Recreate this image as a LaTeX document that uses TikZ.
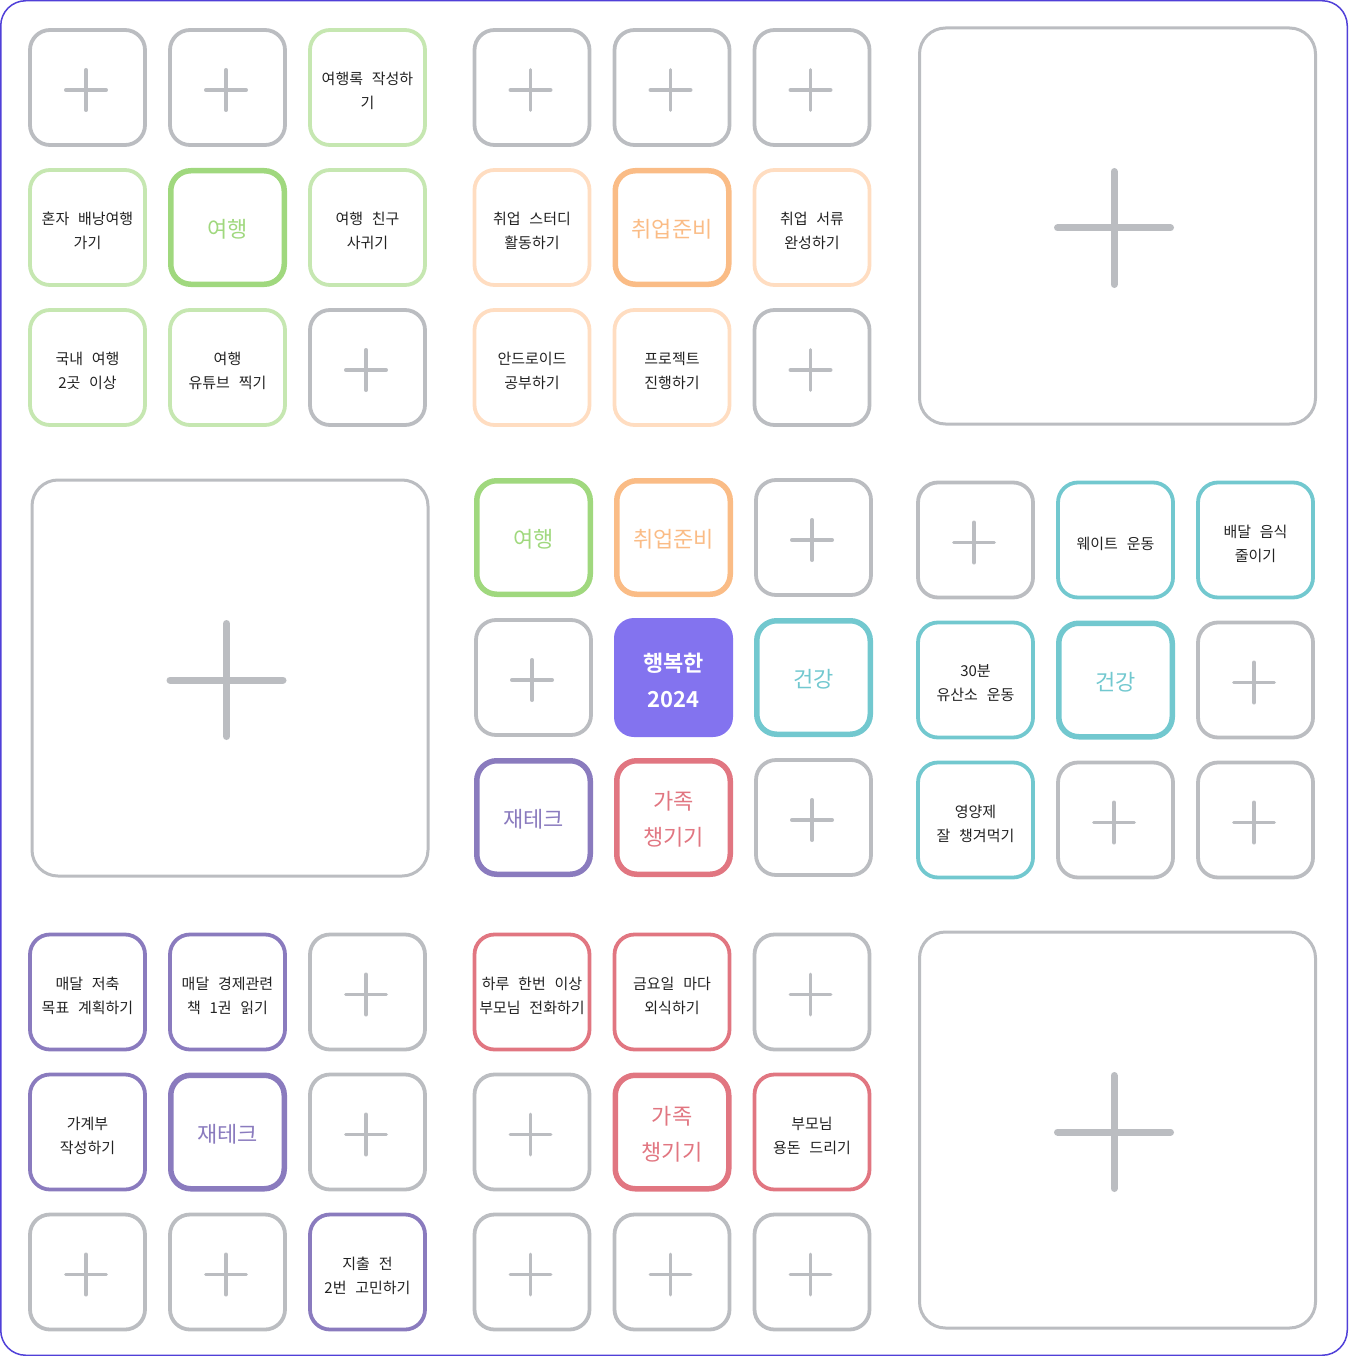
\documentclass[tikz,border=0pt]{standalone}
\usepackage{fontspec}
\newfontfamily\kr[WordSpace=2.6]{Noto Sans CJK KR}
\newfontfamily\krb{Noto Sans CJK KR Bold}
\usetikzlibrary{calc}
\definecolor{cgray}{HTML}{BBBDC1}
\definecolor{clgreen}{HTML}{C6E7B1}
\definecolor{cgreen}{HTML}{A0D87E}
\definecolor{clorange}{HTML}{FFDDC1}
\definecolor{corange}{HTML}{FABC86}
\definecolor{cteal}{HTML}{72C8CF}
\definecolor{cpurple}{HTML}{8A7BBE}
\definecolor{cred}{HTML}{E17681}
\definecolor{ccore}{HTML}{8373EF}
\definecolor{cframe}{HTML}{5040D8}
\definecolor{ctxt}{HTML}{222222}
\tikzset{
  cellbase/.style={rectangle, rounded corners=20pt, inner sep=0pt},
  sub/.style={cellbase, draw=#1, line width=3.8pt, minimum size=115pt},
  subtxt/.style={inner sep=0pt, align=center, yshift=-3.5pt,
    font=\kr\fontsize{15}{24}\selectfont, text=ctxt},
  hub/.style={cellbase, draw=#1, line width=5.5pt, minimum size=113.5pt},
  hubtxt/.style={inner sep=0pt, align=center, yshift=-2pt,
    font=\kr\fontsize{22}{36}\selectfont, text=#1},
  emptycell/.style={sub=cgray},
  bigcell/.style={rectangle, rounded corners=26pt, draw=cgray, line width=3pt, minimum size=396pt, inner sep=0pt},
  corecell/.style={cellbase, fill=ccore, draw=none, minimum size=119pt},
  coretxt/.style={inner sep=0pt, align=center, yshift=-2.5pt,
    font=\krb\fontsize{22}{36}\selectfont, text=white},
  plusline/.style={draw=cgray, line width=3.5pt, line cap=round},
  bigplusline/.style={draw=cgray, line width=7pt, line cap=round},
}
% name, position, box style, text style, text
\newcommand\mycell[5]{\node[#3] (#1) at (#2) {};
  \node[#4] (#1t) at (#1.center) {#5};}
\newcommand\mysub[4]{\mycell{#1}{#2}{sub=#3}{subtxt}{#4}}
\newcommand\myhub[4]{\mycell{#1}{#2}{hub=#3}{hubtxt=#3}{#4}}
\newcommand\myplus[2]{%
  \node[emptycell] (#1) at (#2) {};
  \draw[plusline] ($(#1)+(-21.75,2.5)$) -- ($(#1)+(18.75,2.5)$);
  \draw[plusline] ($(#1)+(-1.5,-17.75)$) -- ($(#1)+(-1.5,22.75)$);}
\newcommand\mybig[2]{%
  \node[bigcell] (#1) at (#2) {};
  \draw[bigplusline] ($(#1)+(-60,2)$) -- ($(#1)+(53,2)$);
  \draw[bigplusline] ($(#1)+(-3.5,-54.5)$) -- ($(#1)+(-3.5,58.5)$);}
\begin{document}
\begin{tikzpicture}[x=1pt,y=-1pt]
\useasboundingbox (0,0) rectangle (1348,1356);
\draw[cframe, line width=1.5pt, rounded corners=25pt] (0.75,0.75) rectangle (1347.25,1355.25);
% ---- top-left block (travel)
\myplus{a11}{87.5,87.5}
\myplus{a12}{227.5,87.5}
\mysub{a13}{367.5,87.5}{clgreen}{여행록 작성하\\기}
\mysub{a21}{87.5,227.5}{clgreen}{혼자 배낭여행\\가기}
\myhub{a22}{227.5,227.5}{cgreen}{여행}
\mysub{a23}{367.5,227.5}{clgreen}{여행 친구\\사귀기}
\mysub{a31}{87.5,367.5}{clgreen}{국내 여행\\2곳 이상}
\mysub{a32}{227.5,367.5}{clgreen}{여행\\유튜브 찍기}
\myplus{a33}{367.5,367.5}
% ---- top-middle block (job)
\myplus{b11}{532,87.5}
\myplus{b12}{672,87.5}
\myplus{b13}{812,87.5}
\mysub{b21}{532,227.5}{clorange}{취업 스터디\\활동하기}
\myhub{b22}{672,227.5}{corange}{취업준비}
\mysub{b23}{812,227.5}{clorange}{취업 서류\\완성하기}
\mysub{b31}{532,367.5}{clorange}{안드로이드\\공부하기}
\mysub{b32}{672,367.5}{clorange}{프로젝트\\진행하기}
\myplus{b33}{812,367.5}
% ---- top-right big
\mybig{c}{1117.5,226}
% ---- middle-left big
\mybig{d}{230,678}
% ---- middle-center block
\myhub{e11}{533.5,537.5}{cgreen}{여행}
\myhub{e12}{673.5,537.5}{corange}{취업준비}
\myplus{e13}{813.5,537.5}
\myplus{e21}{533.5,677.5}
\mycell{e22}{673.5,677.5}{corecell}{coretxt}{행복한\\2024}
\myhub{e23}{813.5,677.5}{cteal}{건강}
\myhub{e31}{533.5,817.5}{cpurple}{재테크}
\myhub{e32}{673.5,817.5}{cred}{가족\\챙기기}
\myplus{e33}{813.5,817.5}
% ---- middle-right block (health)
\myplus{f11}{975.5,540}
\mysub{f12}{1115.5,540}{cteal}{웨이트 운동}
\mysub{f13}{1255.5,540}{cteal}{배달 음식\\줄이기}
\mysub{f21}{975.5,680}{cteal}{30분\\유산소 운동}
\myhub{f22}{1115.5,680}{cteal}{건강}
\myplus{f23}{1255.5,680}
\mysub{f31}{975.5,820}{cteal}{영양제\\잘 챙겨먹기}
\myplus{f32}{1115.5,820}
\myplus{f33}{1255.5,820}
% ---- bottom-left block (finance)
\mysub{g11}{87.5,992}{cpurple}{매달 저축\\목표 계획하기}
\mysub{g12}{227.5,992}{cpurple}{매달 경제관련\\책 1권 읽기}
\myplus{g13}{367.5,992}
\mysub{g21}{87.5,1132}{cpurple}{가계부\\작성하기}
\myhub{g22}{227.5,1132}{cpurple}{재테크}
\myplus{g23}{367.5,1132}
\myplus{g31}{87.5,1272}
\myplus{g32}{227.5,1272}
\mysub{g33}{367.5,1272}{cpurple}{지출 전\\2번 고민하기}
% ---- bottom-middle block (family)
\mysub{h11}{532,992}{cred}{하루 한번 이상\\부모님 전화하기}
\mysub{h12}{672,992}{cred}{금요일 마다\\외식하기}
\myplus{h13}{812,992}
\myplus{h21}{532,1132}
\myhub{h22}{672,1132}{cred}{가족\\챙기기}
\mysub{h23}{812,1132}{cred}{부모님\\용돈 드리기}
\myplus{h31}{532,1272}
\myplus{h32}{672,1272}
\myplus{h33}{812,1272}
% ---- bottom-right big
\mybig{i}{1117.5,1130}
\end{tikzpicture}
\end{document}
